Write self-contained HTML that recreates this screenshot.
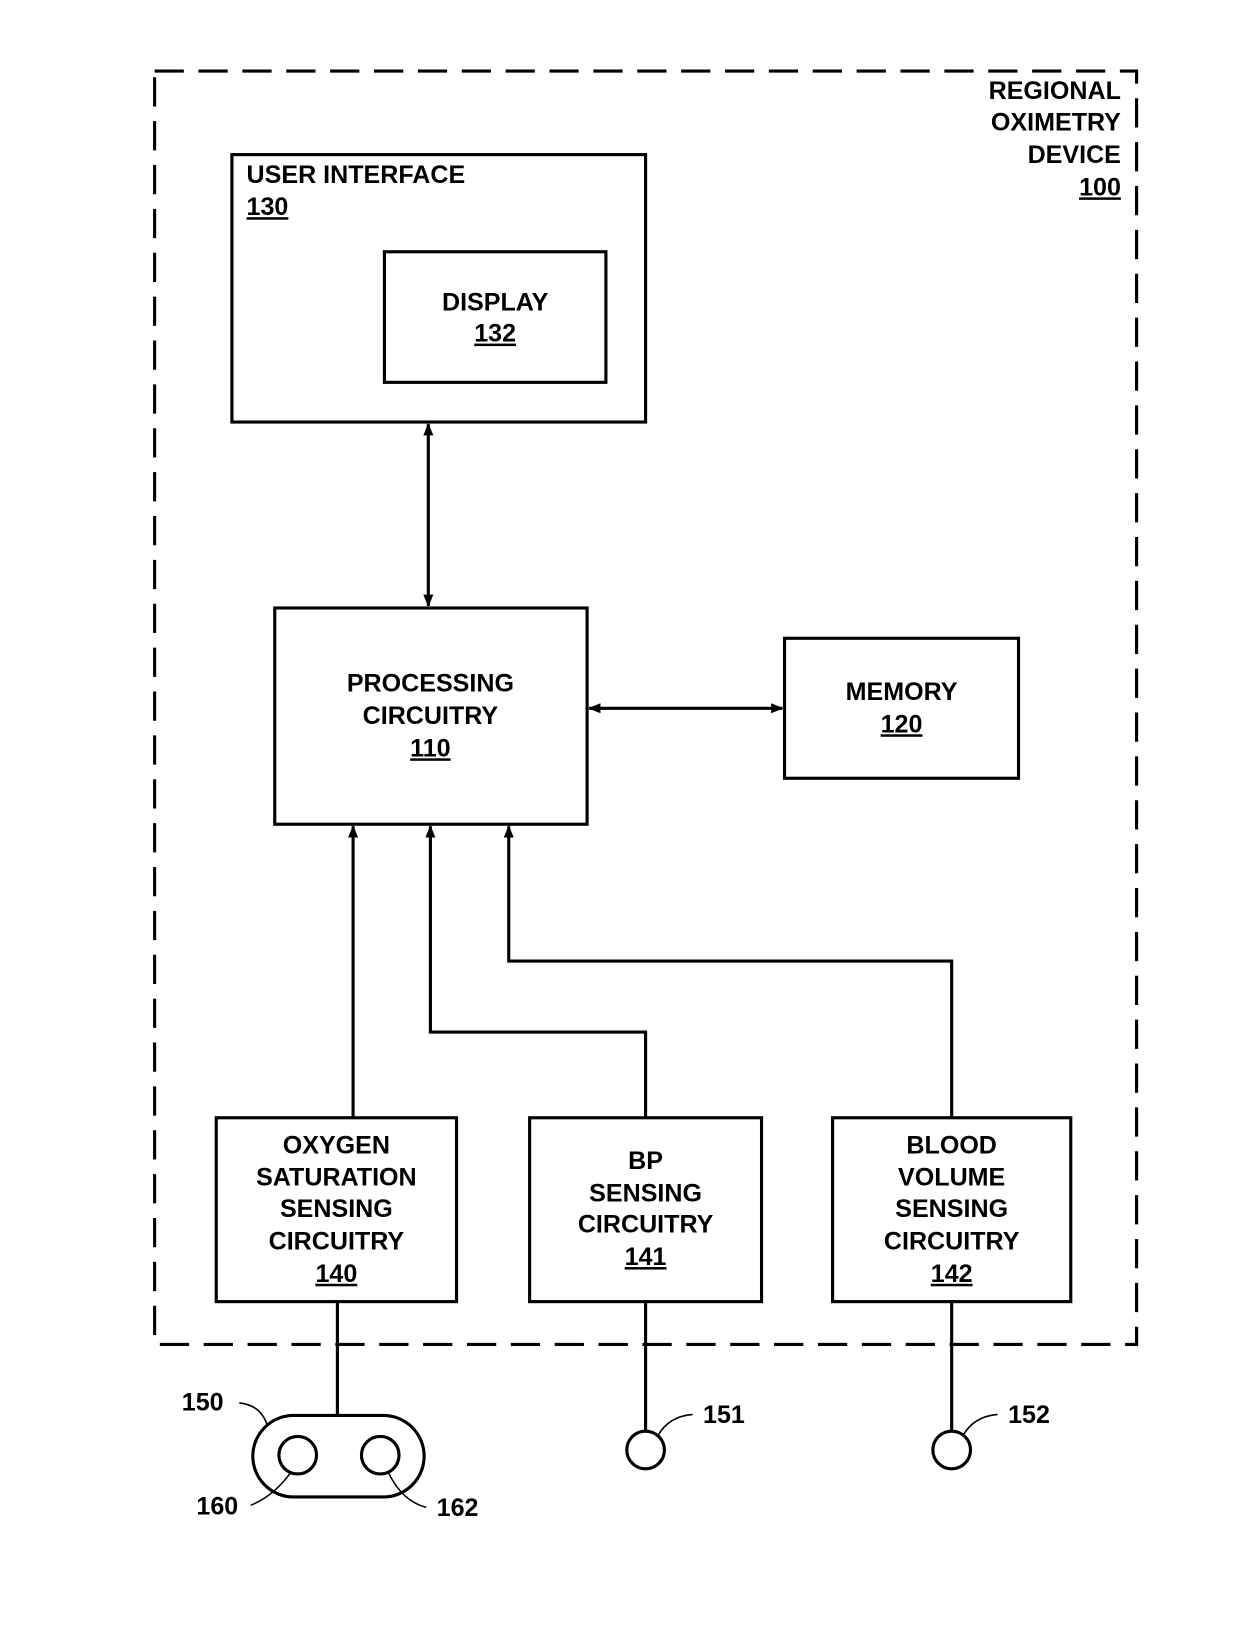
<!DOCTYPE html>
<html><head><style>html,body{margin:0;padding:0;background:#fff}svg{display:block}</style></head>
<body>
<svg width="1240" height="1638" viewBox="0 0 1187 1568" xmlns="http://www.w3.org/2000/svg">
<defs>
<marker id="a" viewBox="0 0 10 10" refX="9" refY="5" markerWidth="12" markerHeight="12" markerUnits="userSpaceOnUse" orient="auto-start-reverse"><path d="M0,1 L10,5 L0,9 z" fill="#000"/></marker>
</defs>
<g fill="none" stroke="#000" stroke-width="3">
<rect x="148" y="68" width="940" height="1219" stroke-dasharray="28,14"/>
<rect x="222" y="148" width="396" height="256"/>
<rect x="368" y="241" width="212" height="125"/>
<rect x="263" y="582" width="299" height="207"/>
<rect x="751" y="611" width="224" height="134"/>
<rect x="207" y="1070" width="230" height="176"/>
<rect x="507" y="1070" width="222" height="176"/>
<rect x="797" y="1070" width="228" height="176"/>
<line x1="410" y1="406" x2="410" y2="580" marker-start="url(#a)" marker-end="url(#a)"/>
<line x1="564" y1="678" x2="749" y2="678" marker-start="url(#a)" marker-end="url(#a)"/>
<line x1="338" y1="1070" x2="338" y2="791" marker-end="url(#a)"/>
<polyline points="618,1070 618,988 412,988 412,791" marker-end="url(#a)"/>
<polyline points="911,1070 911,920 487,920 487,791" marker-end="url(#a)"/>
<line x1="323" y1="1246" x2="323" y2="1355"/>
<line x1="618" y1="1246" x2="618" y2="1370"/>
<line x1="911" y1="1246" x2="911" y2="1370"/>
<circle cx="618" cy="1388" r="18"/>
<circle cx="911" cy="1388" r="18"/>
<rect x="242" y="1355" width="164" height="78" rx="39"/>
<circle cx="285" cy="1393" r="18"/>
<circle cx="364" cy="1393" r="18"/>
<g stroke-width="1.5">
<path d="M229,1343 Q250,1345 256,1365"/>
<path d="M240,1441 Q262,1432 278,1410"/>
<path d="M408,1443 Q385,1437 372,1410"/>
<path d="M663,1354 Q640,1356 630,1374"/>
<path d="M955,1354 Q932,1356 922,1374"/>
</g>
</g>
<g font-family="Liberation Sans, sans-serif" font-weight="bold" font-size="24" fill="#000">
<g text-anchor="end"><text x="1073" y="95">REGIONAL</text><text x="1073" y="125">OXIMETRY</text><text x="1073" y="156">DEVICE</text><text x="1073" y="187" text-decoration="underline">100</text></g>
<text x="236" y="175">USER INTERFACE</text><text x="236" y="206" text-decoration="underline">130</text>
<g text-anchor="middle">
<text x="474" y="297">DISPLAY</text><text x="474" y="327" text-decoration="underline">132</text>
<text x="412" y="662">PROCESSING</text><text x="412" y="693">CIRCUITRY</text><text x="412" y="724" text-decoration="underline">110</text>
<text x="863" y="670">MEMORY</text><text x="863" y="701" text-decoration="underline">120</text>
<text x="322" y="1104">OXYGEN</text><text x="322" y="1135">SATURATION</text><text x="322" y="1165">SENSING</text><text x="322" y="1196">CIRCUITRY</text><text x="322" y="1227" text-decoration="underline">140</text>
<text x="618" y="1119">BP</text><text x="618" y="1150">SENSING</text><text x="618" y="1180">CIRCUITRY</text><text x="618" y="1211" text-decoration="underline">141</text>
<text x="911" y="1104">BLOOD</text><text x="911" y="1135">VOLUME</text><text x="911" y="1165">SENSING</text><text x="911" y="1196">CIRCUITRY</text><text x="911" y="1227" text-decoration="underline">142</text>
</g>
<text x="174" y="1350">150</text>
<text x="188" y="1450">160</text>
<text x="418" y="1451">162</text>
<text x="673" y="1362">151</text>
<text x="965" y="1362">152</text>
</g>
</svg>
</body></html>
